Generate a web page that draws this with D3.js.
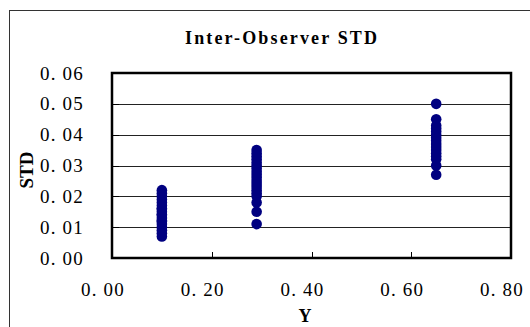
<!DOCTYPE html>
<meta charset="utf-8">
<style>
    body { margin: 0; background: #fff; }
    .tick-label { font-family: "Liberation Serif", "DejaVu Serif", serif; font-size: 19px; letter-spacing: 1.2px; fill: #000; }
    .axis-title { font-family: "Liberation Serif", "DejaVu Serif", serif; font-weight: bold; fill: #000; }
    .title { font-family: "Liberation Serif", "DejaVu Serif", serif; font-size: 18px; font-weight: bold; fill: #000; }
</style>
<body>
<div id="chart"></div>
<script src="https://cdn.jsdelivr.net/npm/d3@7"></script>
<script>
    // data
    var xTicks = [0, 0.2, 0.4, 0.6, 0.8];
    var yTicks = [0, 0.01, 0.02, 0.03, 0.04, 0.05, 0.06];
    var groupX = [0.10, 0.29, 0.65];
    var stdLow = [0.007, 0.008, 0.009, 0.010, 0.011, 0.012, 0.012, 0.013, 0.014, 0.014,
        0.015, 0.016, 0.016, 0.017, 0.018, 0.019, 0.020, 0.021, 0.022];
    var stdMid = [0.011, 0.015, 0.018, 0.020, 0.021, 0.022, 0.023, 0.024, 0.025, 0.026,
        0.027, 0.028, 0.029, 0.030, 0.031, 0.032, 0.033, 0.034, 0.035];
    var stdHigh = [0.027, 0.030, 0.032, 0.033, 0.034, 0.035, 0.036, 0.037, 0.038, 0.039,
        0.040, 0.041, 0.042, 0.043, 0.045, 0.050];

    var points = [];
    [stdLow, stdMid, stdHigh].forEach(function (vals, i) {
        vals.forEach(function (v) { points.push({ x: groupX[i], y: v }); });
    });

    var W = 530, H = 327;
    var plot = { left: 112, right: 511, top: 73, bottom: 258 };

    var svg = d3.select("#chart").append("svg")
        .attr("width", W)
        .attr("height", H);

    var x = d3.scaleLinear().domain([0, 0.8]).range([plot.left, plot.right]);
    var y = d3.scaleLinear().domain([0, 0.06]).range([plot.bottom, plot.top]);

    // outer chart border (only left/top visible)
    svg.append("rect")
        .attr("x", 9.5).attr("y", 10.5)
        .attr("width", 540).attr("height", 340)
        .attr("fill", "none")
        .attr("stroke", "#333")
        .attr("stroke-width", 1);

    svg.append("text")
        .attr("class", "title")
        .attr("x", 281)
        .attr("y", 44)
        .attr("text-anchor", "middle")
        .attr("textLength", 192)
        .attr("lengthAdjust", "spacing")
        .text("Inter-Observer STD");

    // gridlines
    svg.append("g")
        .selectAll("line")
        .data(yTicks.slice(1, -1))
        .enter().append("line")
        .attr("x1", plot.left).attr("x2", plot.right)
        .attr("y1", function (d) { return Math.round(y(d)) + 0.5; })
        .attr("y2", function (d) { return Math.round(y(d)) + 0.5; })
        .attr("stroke", "#222")
        .attr("stroke-width", 1);

    // x ticks (inside, pointing up)
    svg.append("g")
        .selectAll("line")
        .data(xTicks.slice(1, -1))
        .enter().append("line")
        .attr("x1", function (d) { return Math.round(x(d)) + 0.5; })
        .attr("x2", function (d) { return Math.round(x(d)) + 0.5; })
        .attr("y1", plot.bottom).attr("y2", plot.bottom - 6)
        .attr("stroke", "#000");

    // y ticks (inside)
    svg.append("g")
        .selectAll("line")
        .data(yTicks.slice(1, -1))
        .enter().append("line")
        .attr("x1", plot.left).attr("x2", plot.left + 7)
        .attr("y1", function (d) { return Math.round(y(d)) + 0.5; })
        .attr("y2", function (d) { return Math.round(y(d)) + 0.5; })
        .attr("stroke", "#000");

    // plot frame
    svg.append("rect")
        .attr("x", plot.left).attr("y", plot.top)
        .attr("width", plot.right - plot.left)
        .attr("height", plot.bottom - plot.top)
        .attr("fill", "none")
        .attr("stroke", "#000")
        .attr("stroke-width", 2.5);

    // points
    svg.append("g")
        .selectAll("circle")
        .data(points)
        .enter().append("circle")
        .attr("cx", function (d) { return x(d.x); })
        .attr("cy", function (d) { return y(d.y); })
        .attr("r", 5.3)
        .attr("fill", "#000080");

    function fmt(v) {
        var s = v.toFixed(2);
        return s.replace(".", ". ");
    }

    // y labels
    svg.append("g")
        .selectAll("text")
        .data(yTicks)
        .enter().append("text")
        .attr("class", "tick-label")
        .attr("x", plot.left - 28)
        .attr("y", function (d) { return y(d); })
        .attr("dy", "0.35em")
        .attr("text-anchor", "end")
        .text(fmt);

    // x labels
    svg.append("g")
        .selectAll("text")
        .data(xTicks)
        .enter().append("text")
        .attr("class", "tick-label")
        .attr("x", function (d) { return x(d) - 9; })
        .attr("y", 296)
        .attr("text-anchor", "middle")
        .text(fmt);

    svg.append("text")
        .attr("class", "axis-title")
        .attr("x", 305)
        .attr("y", 322)
        .attr("text-anchor", "middle")
        .style("font-size", "18px")
        .text("Y");

    svg.append("text")
        .attr("class", "axis-title")
        .attr("transform", "translate(33,170) rotate(-90)")
        .attr("text-anchor", "middle")
        .style("font-size", "19px")
        .text("STD");
</script>
</body>
